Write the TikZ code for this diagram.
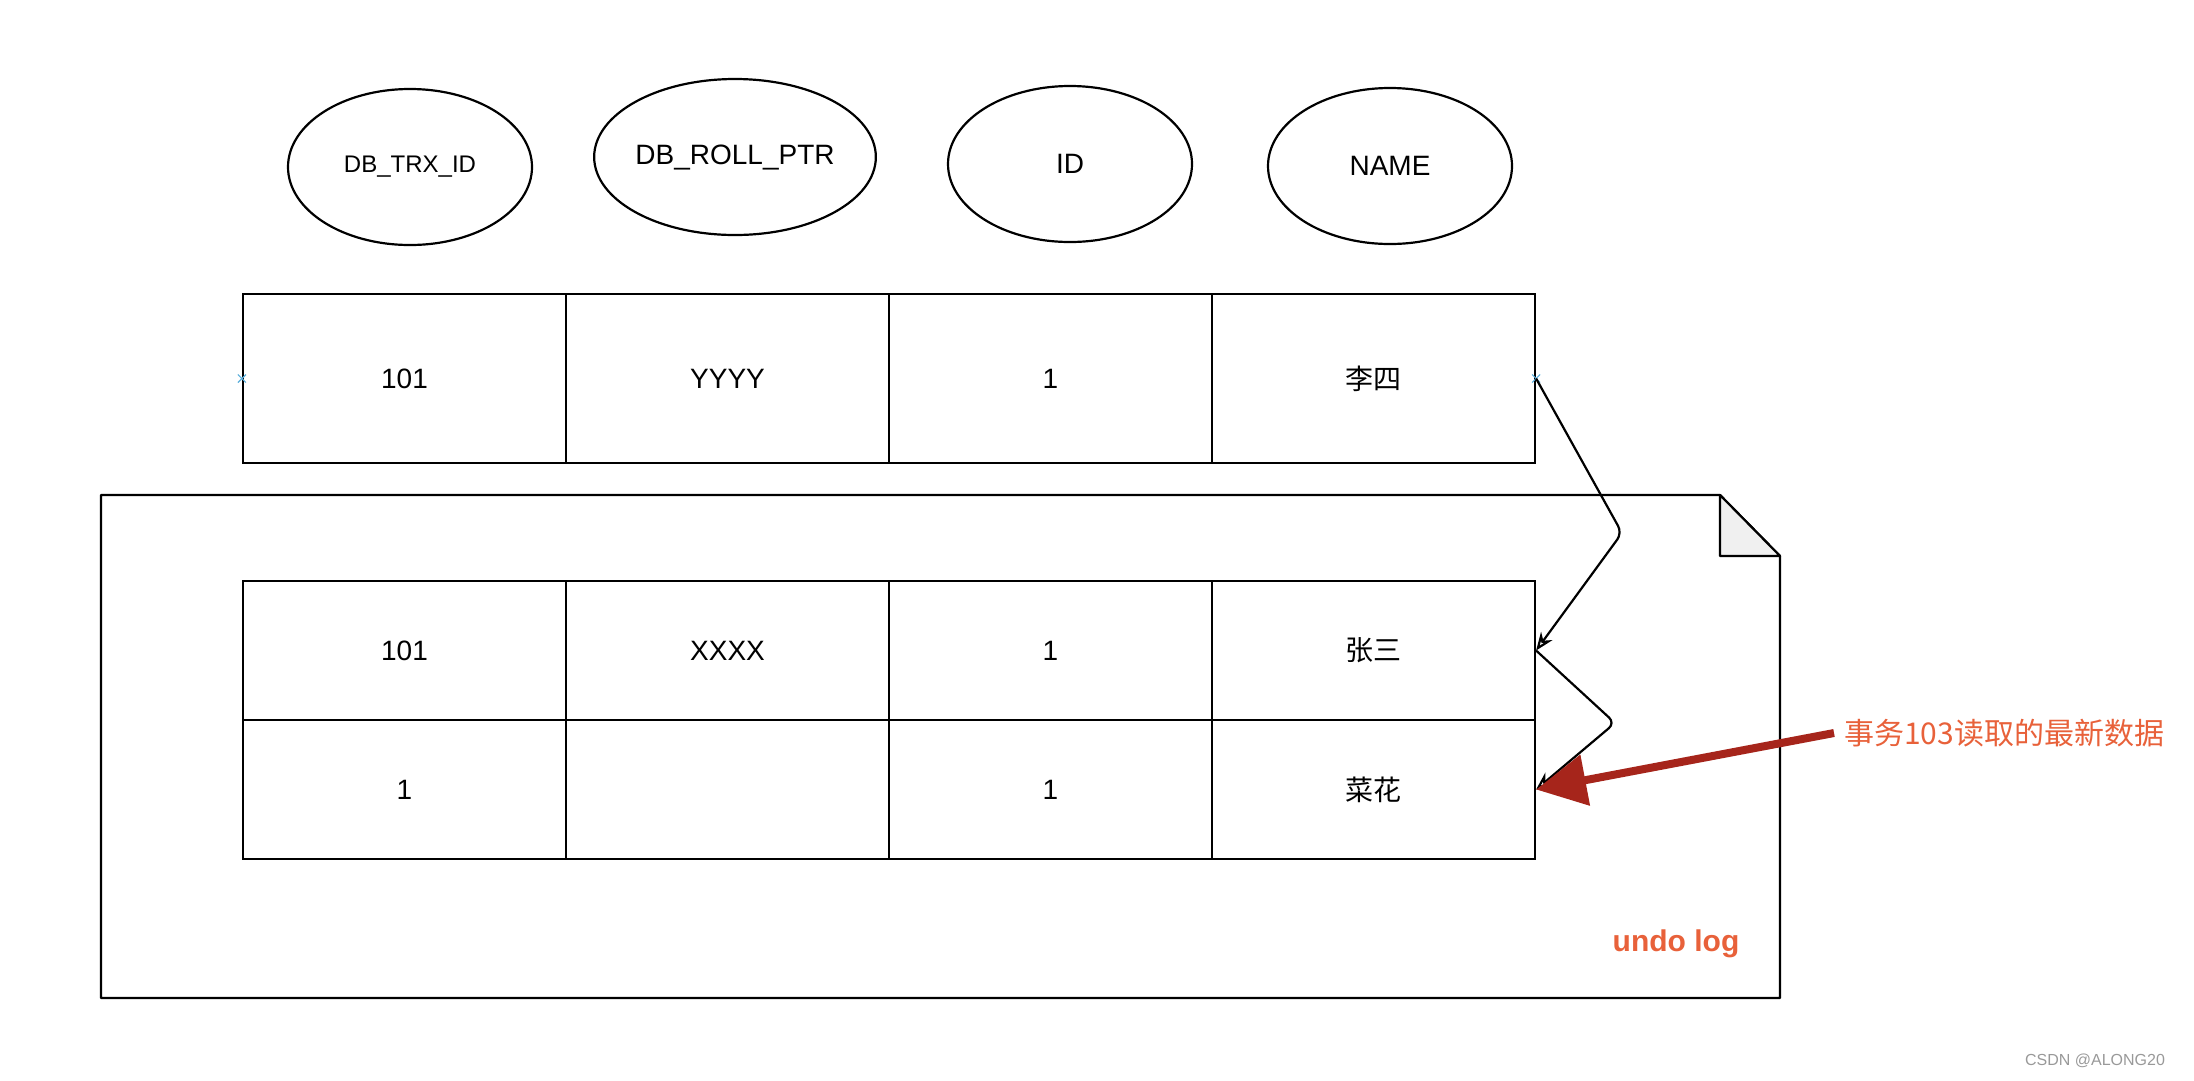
\documentclass[tikz,border=0pt]{standalone}
\usepackage{fontspec}
\setmainfont{Liberation Sans}
\newfontfamily\cjk{Noto Sans CJK SC}
\usetikzlibrary{shapes.geometric,arrows.meta,calc}
\definecolor{notered}{HTML}{E8613A}
\definecolor{arrowred}{HTML}{A6251B}
\definecolor{markblue}{HTML}{5AAEDB}
\begin{document}
\begin{tikzpicture}[x=1pt,y=-1pt,
  field/.style={draw, ellipse, line width=2.2pt, minimum width=244pt, minimum height=156pt, inner sep=0pt, font=\fontsize{28}{32}\selectfont},
  cell/.style={draw, rectangle, line width=2.2pt, minimum width=323pt, inner sep=0pt, font=\fontsize{28}{32}\selectfont},
  toprow/.style={cell, minimum height=169pt},
  logrow/.style={cell, minimum height=139pt},
  link/.style={draw, line width=2.2pt, rounded corners=8pt, -{Stealth[open,length=18pt,width=14pt]}},
  selmark/.style={draw=markblue, line width=1.2pt},
  docline/.style={draw, line width=2.2pt, line join=round}
]
\useasboundingbox (0,0) rectangle (2194,1080);

% column name ellipses
\node[field, font=\fontsize{24}{28}\selectfont] (f1) at (410,167) {DB\_TRX\_ID};
\node[field] (f2) at (735,157) {DB\_ROLL\_PTR};
\node[field] (f3) at (1070,164) {ID};
\node[field] (f4) at (1390,166) {NAME};

% current row
\node[toprow] (t1) at (404.5,378.5) {101};
\node[toprow] (t2) at (727.5,378.5) {YYYY};
\node[toprow] (t3) at (1050.5,378.5) {1};
\node[toprow] (t4) at (1373.5,378.5) {\cjk 李四};

% selection markers
\draw[selmark] ($(t1.west)+(-4,-4)$) -- ++(8,8) ($(t1.west)+(-4,4)$) -- ++(8,-8);
\draw[selmark] ($(t4.east)+(-4,-4)$) -- ++(8,8) ($(t4.east)+(-4,4)$) -- ++(8,-8);

% undo log document
\coordinate (dTL) at (101,495);
\coordinate (dFold) at (1720,495);
\coordinate (dFoldB) at (1720,556);
\coordinate (dR) at (1780,556);
\coordinate (dBR) at (1780,998);
\coordinate (dBL) at (101,998);
\draw[docline] (dTL) -- (dFold) -- (dR) -- (dBR) -- (dBL) -- cycle;
\draw[docline, fill=gray!12] (dFold) -- (dFoldB) -- (dR) -- cycle;

% undo log rows
\node[logrow] (a1) at (404.5,650.5) {101};
\node[logrow] (a2) at (727.5,650.5) {XXXX};
\node[logrow] (a3) at (1050.5,650.5) {1};
\node[logrow] (a4) at (1373.5,650.5) {\cjk 张三};
\node[logrow] (b1) at (404.5,789.5) {1};
\node[logrow] (b2) at (727.5,789.5) {};
\node[logrow] (b3) at (1050.5,789.5) {1};
\node[logrow] (b4) at (1373.5,789.5) {\cjk 菜花};

\node[font=\bfseries\fontsize{30}{34}\selectfont, text=notered] (undo) at (1676,944) {undo log};

% version chain
\coordinate (k1) at (1622,533);
\coordinate (k2) at (1615,723);
\draw[link] (t4.east) -- (k1) -- (a4.east);
\draw[link] (a4.east) -- (k2) -- (b4.east);

% note
\node[anchor=west, text=notered, font=\cjk\fontsize{30}{34}\selectfont, inner sep=0pt] (note) at (1844,733) {事务103读取的最新数据};
\draw[arrowred, line width=8pt, -{Triangle[length=50pt,width=50pt]}] ($(note.west)+(-10,0)$) -- (b4.east);

% watermark
\node[text=gray!80, font=\fontsize{16}{18}\selectfont] (wm) at (2095,1061) {CSDN @ALONG20};
\end{tikzpicture}
\end{document}
